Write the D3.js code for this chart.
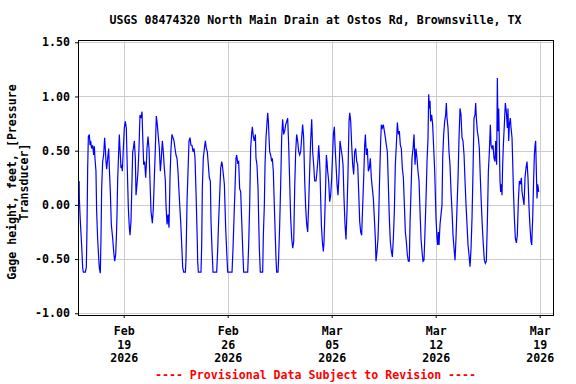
<!DOCTYPE html>
<html>
<head>
<meta charset="utf-8">
<script src="https://cdn.jsdelivr.net/npm/d3@7"></script>
<style>
  body { margin: 0; background: #fff; }
  text { font-family: "DejaVu Sans Mono", monospace; font-weight: bold; font-size: 11.6px; }
</style>
</head>
<body>
<div id="chart"></div>
<script>
// hours after 2026-02-16 00:00
const hours = [
  0,0.3,1.9,4.1,5.7,6.8,10.0,11.6,12.7,13.8,14.9,16.5,17.6,18.6,20.2,21.9,23.5,24.6,25.6,27.2,
  28.3,29.9,31.6,32.6,34.2,35.3,36.4,38.0,39.6,41.2,42.3,43.4,44.5,46.1,47.7,48.8,50.4,52.0,54.2,55.8,
  57.4,59.0,60.1,61.2,62.2,63.9,64.9,66.0,67.6,68.7,69.8,71.4,73.0,74.6,76.2,77.9,79.5,81.1,82.2,83.8,
  85.4,86.5,87.6,89.2,90.8,91.9,93.5,95.1,96.7,98.3,100.0,101.6,102.6,104.3,105.9,107.5,108.6,109.6,111.3,112.9,
  114.0,116.1,118.3,119.9,121.5,123.1,124.7,126.3,128.0,129.6,131.2,132.8,134.4,136.0,137.6,139.3,140.3,142.0,143.6,145.2,
  146.8,148.4,150.0,151.6,153.3,154.9,156.5,158.1,159.7,161.9,164.0,165.6,167.3,168.9,171.6,172.6,174.3,175.9,177.5,179.1,
  180.7,182.3,184.0,185.6,187.2,188.8,189.9,191.0,191.5,192.6,196.9,198.0,199.0,200.6,202.3,203.9,205.5,207.1,208.7,210.3,
  212.0,213.0,214.6,216.3,222.2,223.8,225.4,227.0,228.7,230.3,231.3,233.0,234.6,235.6,236.7,238.3,240.0,247.0,248.6,250.2,
  251.8,253.4,254.5,256.1,257.7,259.3,261.0,262.6,264.2,265.8,272.3,273.9,275.5,277.1,278.7,279.8,281.4,283.0,284.7,285.7,
  287.3,289.0,290.0,291.1,292.7,296.5,297.6,299.2,300.3,301.9,303.5,304.6,305.7,306.7,307.8,309.4,311.0,312.1,313.7,315.3,
  317.0,318.0,319.1,321.3,322.3,324.0,325.6,327.2,328.8,330.4,332.0,333.7,335.3,336.9,338.5,340.1,341.7,343.4,345.0,346.6,
  348.2,349.8,351.4,353.0,354.7,356.3,357.9,359.5,361.1,362.7,364.4,366.0,367.6,369.2,370.8,372.4,374.0,375.7,377.3,378.9,
  380.5,382.7,384.3,385.9,387.0,388.0,389.1,390.2,391.3,392.9,394.5,395.6,397.2,398.3,399.4,400.4,401.5,403.1,404.7,406.4,
  408.0,409.6,410.7,412.3,413.4,415.0,416.6,418.2,419.8,421.4,423.1,424.7,426.3,427.9,429.5,431.1,432.7,434.4,436.0,437.1,
  438.7,440.3,441.9,443.5,445.1,446.7,448.4,450.0,451.6,453.2,454.8,456.4,458.1,459.7,461.3,462.4,464.0,465.6,467.2,468.8,
  470.4,472.0,473.7,475.3,476.9,478.5,479.6,481.2,482.8,483.9,485.0,486.0,487.1,488.2,489.8,491.4,493.1,494.7,496.3,497.9,
  499.5,501.1,502.7,504.4,506.0,507.6,509.2,510.8,512.4,514.1,515.7,517.3,518.9,520.5,522.1,523.8,525.4,527.0,528.6,530.2,
  531.8,533.4,534.5,536.1,537.7,539.4,541.0,542.6,544.2,545.8,547.4,549.1,550.7,552.3,553.9,555.5,557.1,558.7,560.4,562.0,
  563.6,564.7,565.7,566.8,567.9,569.5,571.1,572.8,574.4,576.5,578.1,579.2,580.3,581.4,583.0,584.6,586.2,587.3,588.9,590.5,
  592.1,593.2,594.3,595.9,597.5,599.1,600.8,602.4,604.0,605.6,607.2,608.8,610.4,612.1,613.7,615.3,616.9,618.5,620.1,621.8,
  623.4,625.0,626.6,628.2,629.8,631.5,633.1,634.7,636.3,637.9,639.5,640.6,641.7,643.3,644.9,646.5,648.1,649.8,651.4,653.0,
  654.6,656.2,657.8,659.5,661.1,662.7,664.3,665.4,667.0,668.6,670.2,671.8,672.9,674.5,675.6,676.7,677.8,678.8,679.9,681.0,
  682.1,683.1,684.2,685.3,686.9,688.5,690.1,691.8,692.8,693.9,695.0,696.6,697.7,699.3,700.4,701.5,703.1,704.7,706.3,707.9,
  709.5,711.2,712.8,714.4,715.5,717.1,718.7,720.3,721.9,723.5,725.1,726.8,728.4,730.0,731.1,732.7,734.3,735.4,736.5,737.5,
  738.6,739.7,740.8,742.4
]

// gage height, feet
const gage = [
  0.22,0.06,-0.15,-0.38,-0.58,-0.62,-0.62,-0.58,-0.21,0.34,0.63,0.65,0.55,0.59,0.52,0.55,0.46,0.54,0.43,0.31,
  -0.06,-0.31,-0.49,-0.58,-0.63,-0.31,0.15,0.40,0.46,0.62,0.52,0.40,0.33,0.43,0.52,0.34,0.12,-0.18,-0.31,-0.43,
  -0.52,-0.46,-0.31,-0.09,0.22,0.49,0.65,0.52,0.34,0.37,0.31,0.52,0.71,0.77,0.71,0.31,-0.03,-0.21,-0.28,-0.15,
  0.22,0.49,0.52,0.59,0.43,0.09,0.19,0.31,0.52,0.83,0.80,0.86,0.65,0.37,0.40,0.25,0.37,0.52,0.63,0.52,
  0.31,-0.06,-0.17,-0.03,0.25,0.52,0.82,0.74,0.62,0.52,0.31,0.43,0.59,0.49,0.34,0.22,0.00,-0.18,-0.09,-0.21,
  0.25,0.52,0.65,0.62,0.59,0.52,0.46,0.43,0.31,0.06,-0.15,-0.35,-0.58,-0.62,-0.62,-0.51,0.03,0.31,0.59,0.62,
  0.55,0.55,0.49,0.52,0.43,0.12,-0.12,-0.37,-0.52,-0.62,-0.62,-0.37,0.15,0.43,0.52,0.59,0.52,0.49,0.37,0.25,
  0.22,-0.14,-0.40,-0.62,-0.62,-0.42,-0.14,0.08,0.34,0.40,0.37,0.28,0.19,0.00,-0.21,-0.42,-0.62,-0.62,-0.40,-0.12,
  0.15,0.43,0.46,0.39,0.40,0.15,0.12,-0.14,-0.40,-0.62,-0.62,-0.37,0.00,0.52,0.66,0.72,0.63,0.59,0.65,0.43,
  0.37,0.15,-0.12,-0.40,-0.62,-0.62,-0.28,0.00,0.37,0.62,0.76,0.85,0.77,0.63,0.49,0.46,0.40,0.43,0.31,0.00,
  -0.31,-0.49,-0.62,-0.62,-0.49,-0.18,0.19,0.62,0.79,0.65,0.68,0.74,0.77,0.80,0.55,0.22,-0.12,-0.31,-0.40,-0.34,
  0.15,0.49,0.65,0.59,0.49,0.46,0.49,0.62,0.74,0.62,0.22,-0.03,-0.18,-0.25,0.00,0.31,0.59,0.79,0.49,0.37,
  0.22,0.22,0.31,0.43,0.55,0.46,0.31,0.06,-0.18,-0.34,-0.43,-0.34,-0.03,0.19,0.46,0.40,0.31,0.22,0.03,0.09,
  0.25,0.49,0.65,0.72,0.55,0.37,0.19,0.09,0.28,0.59,0.52,0.46,0.37,0.06,-0.18,-0.32,-0.06,0.31,0.77,0.85,
  0.77,0.55,0.37,0.28,0.49,0.52,0.40,0.37,0.12,-0.15,-0.25,-0.28,0.00,0.25,0.55,0.65,0.46,0.52,0.31,0.34,
  0.43,0.25,0.15,0.06,-0.12,-0.31,-0.52,-0.43,-0.31,-0.12,0.15,0.37,0.59,0.74,0.71,0.74,0.68,0.62,0.55,0.49,
  0.19,-0.12,-0.34,-0.43,-0.48,-0.31,-0.06,0.37,0.55,0.76,0.65,0.68,0.55,0.52,0.34,0.25,0.00,-0.25,-0.34,-0.46,
  -0.52,-0.52,-0.18,0.12,0.43,0.52,0.65,0.37,0.52,0.43,0.31,0.22,-0.06,-0.31,-0.43,-0.52,-0.51,-0.25,0.06,0.40,
  0.62,1.02,0.89,0.96,0.77,0.83,0.74,0.52,0.31,-0.12,-0.31,-0.37,-0.25,-0.37,-0.18,-0.09,0.00,0.43,0.65,0.77,
  0.83,0.94,0.80,0.71,0.49,0.37,0.12,-0.06,-0.28,-0.40,-0.51,-0.31,-0.03,0.25,0.62,0.89,0.83,0.62,0.59,0.46,
  0.22,0.00,-0.18,-0.37,-0.46,-0.57,-0.40,-0.12,0.31,0.80,0.83,0.94,0.80,0.68,0.62,0.52,0.25,0.00,-0.21,-0.37,
  -0.51,-0.54,-0.52,-0.15,0.31,0.49,0.74,0.55,0.52,0.55,0.43,0.40,0.59,0.37,1.17,0.68,0.89,0.59,0.22,0.12,
  0.19,0.09,0.37,0.55,0.74,0.94,0.86,0.71,0.89,0.59,0.74,0.80,0.71,0.62,0.40,0.15,-0.12,-0.31,-0.35,-0.28,
  0.03,0.22,0.19,0.25,0.12,0.06,0.00,0.25,0.34,0.40,0.25,-0.03,-0.21,-0.34,-0.37,-0.12,0.25,0.46,0.55,0.59,
  0.31,0.06,0.19,0.12
]

const yTicks = [1.5, 1.0, 0.5, 0.0, -0.5, -1.0]
const xTickDates = ["2026-02-19", "2026-02-26", "2026-03-05", "2026-03-12", "2026-03-19"]

const title = "USGS 08474320 North Main Drain at Ostos Rd, Brownsville, TX"
const yLabel = ["Gage height, feet, [Pressure", "Transducer]"]
const footNote = "---- Provisional Data Subject to Revision ----"

const W = 576, H = 384
const LEFT = 78, RIGHT = 553, TOP = 40, BOTTOM = 315

const start = new Date(2026, 1, 16, 0, 0)
const hourMs = 3600 * 1000
const data = hours.map((h, i) => ({ date: new Date(+start + h * hourMs), value: gage[i] }))

const svg = d3.select("#chart").append("svg")
  .attr("width", W)
  .attr("height", H)

const x = d3.scaleTime()
  .domain([new Date(+start - 1.83 * hourMs), new Date(+start + 765.5 * hourMs)])
  .range([LEFT, RIGHT])
const y = d3.scaleLinear()
  .domain([-1.016, 1.521])
  .range([BOTTOM, TOP])

const parse = d3.timeParse("%Y-%m-%d")
const xTicks = xTickDates.map(parse)

// grid
const grid = svg.append("g").attr("shape-rendering", "crispEdges")
grid.selectAll(".hg").data(yTicks).join("line")
  .attr("x1", LEFT).attr("x2", RIGHT)
  .attr("y1", d => Math.round(y(d)) + 0.5).attr("y2", d => Math.round(y(d)) + 0.5)
  .attr("stroke", "#cccccc")
grid.selectAll(".vg").data(xTicks).join("line")
  .attr("x1", d => Math.round(x(d)) + 0.5).attr("x2", d => Math.round(x(d)) + 0.5)
  .attr("y1", TOP).attr("y2", BOTTOM)
  .attr("stroke", "#cccccc")

// the data line
const line = d3.line()
  .x(d => x(d.date))
  .y(d => y(d.value))

svg.append("path")
  .attr("fill", "none")
  .attr("stroke", "#0000ff")
  .attr("stroke-width", 1.2)
  .attr("d", line(data))

// frame
svg.append("rect")
  .attr("x", LEFT + 0.5).attr("y", TOP + 0.5)
  .attr("width", RIGHT - LEFT).attr("height", BOTTOM - TOP)
  .attr("fill", "none").attr("stroke", "#000")
  .attr("shape-rendering", "crispEdges")

// y axis labels
const yAxis = d3.axisLeft(y)
  .tickValues(yTicks)
  .tickSize(3)
  .tickPadding(5)
  .tickFormat(d3.format(".2f"))
const ya = svg.append("g")
  .attr("transform", `translate(${LEFT},0)`)
  .call(yAxis)
ya.select(".domain").remove()
ya.selectAll("text").attr("font-size", null).attr("font-family", null).attr("fill", "#000")
ya.selectAll("text").text(d => d3.format(".2f")(d).replace("−", "-"))

// x axis labels (3 lines each)
const xAxis = d3.axisBottom(x)
  .tickValues(xTicks)
  .tickSize(3)
  .tickFormat("")
const xa = svg.append("g")
  .attr("transform", `translate(0,${BOTTOM})`)
  .call(xAxis)
xa.select(".domain").remove()
xa.selectAll(".tick").each(function (d) {
  const t = d3.select(this).append("text")
    .attr("fill", "#000")
    .attr("text-anchor", "middle")
  t.append("tspan").attr("x", 0).attr("y", 20).text(d3.timeFormat("%b")(d))
  t.append("tspan").attr("x", 0).attr("y", 34).text(d3.timeFormat("%d")(d))
  t.append("tspan").attr("x", 0).attr("y", 47).text(d3.timeFormat("%Y")(d))
})

// title
svg.append("text")
  .attr("x", (LEFT + RIGHT) / 2)
  .attr("y", 24)
  .attr("text-anchor", "middle")
  .text(title)

// y title
yLabel.forEach((s, i) => {
  svg.append("text")
    .attr("transform", `translate(${16 + i * 12},182) rotate(-90)`)
    .attr("text-anchor", "middle")
    .text(s)
})

// footnote
svg.append("text")
  .attr("x", (LEFT + RIGHT) / 2)
  .attr("y", 379)
  .attr("text-anchor", "middle")
  .attr("fill", "#ff0000")
  .text(footNote)
</script>
</body>
</html>
